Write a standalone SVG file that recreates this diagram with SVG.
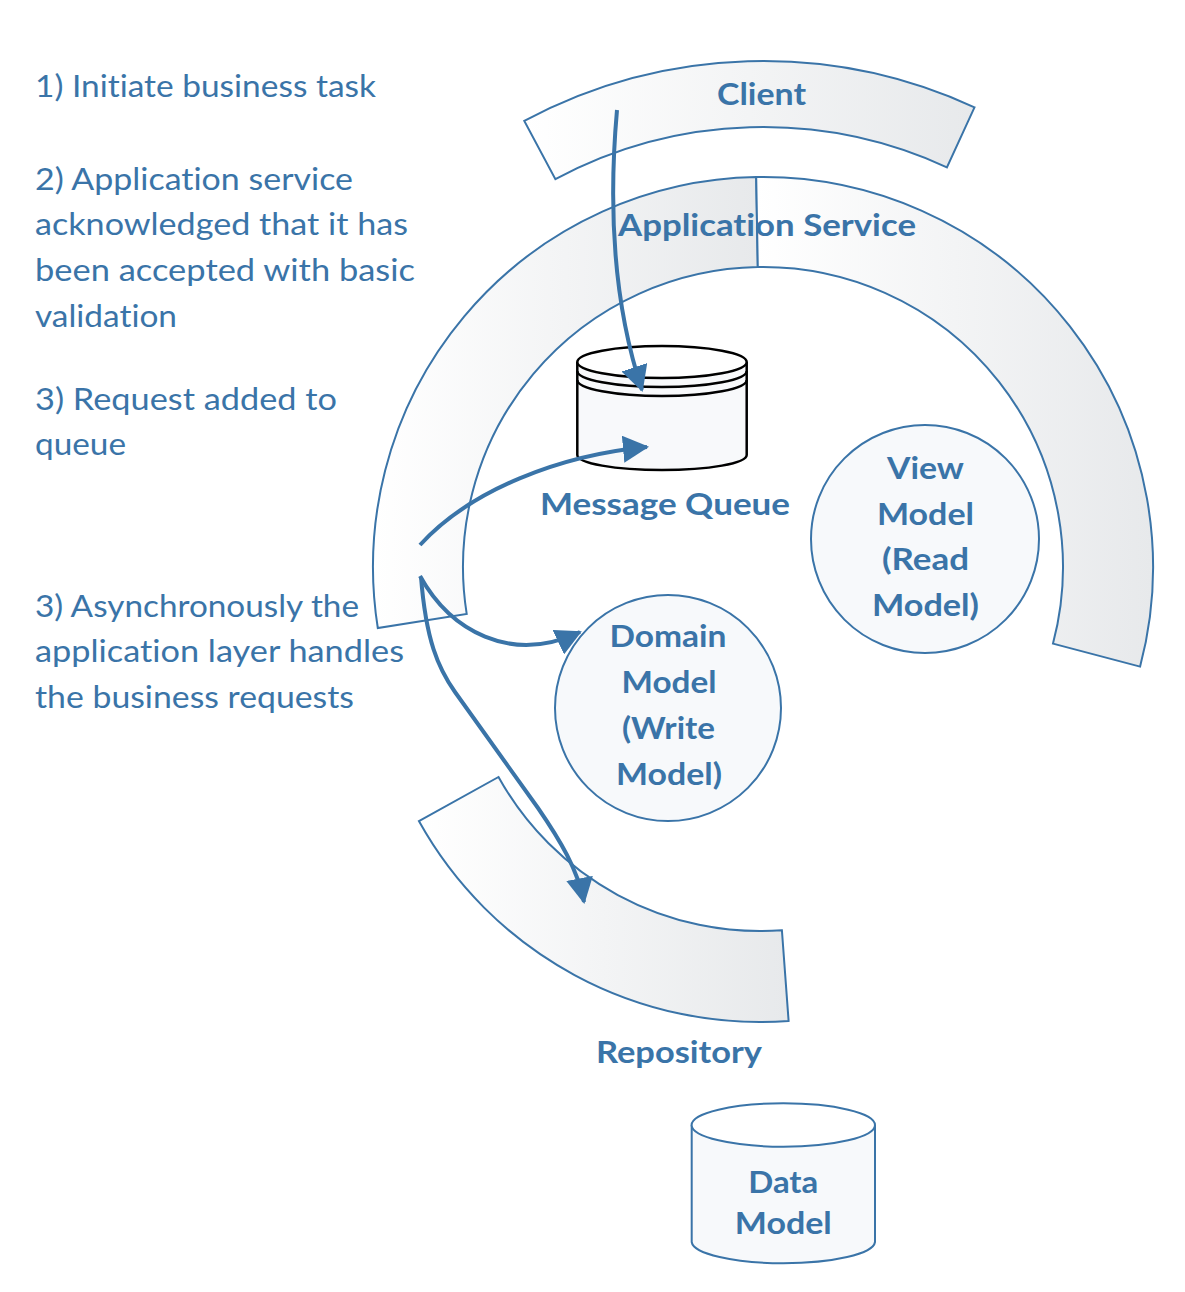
<svg xmlns="http://www.w3.org/2000/svg" width="1185" height="1292" viewBox="0 0 1185 1292">
<style>
.band{stroke:#3a74a8;stroke-width:2;stroke-linejoin:miter}
.node{fill:#f7f9fb;stroke:#3a74a8;stroke-width:2}
.lbl{font-family:Lato,"Liberation Sans",sans-serif;font-weight:700;font-size:31px;fill:#3a74a8;text-anchor:middle;font-variant-ligatures:none}
.note{font-family:Lato,"Liberation Sans",sans-serif;font-weight:400;font-size:31px;fill:#3a74a8;font-variant-ligatures:none}
.mq{fill:#f8f9fb;stroke:#000;stroke-width:2.5}
.conn{fill:none;stroke:#3a74a8;stroke-width:4}
</style>
<defs>
<linearGradient id="g" x1="0" y1="0" x2="1" y2="0">
<stop offset="0" stop-color="#ffffff"/>
<stop offset="1" stop-color="#e7e9eb"/>
</linearGradient>
<marker id="ah" markerUnits="userSpaceOnUse" viewBox="0 0 26 27" markerWidth="26" markerHeight="27" refX="24" refY="13.5" orient="auto">
<path d="M0,0 L26,13.5 L0,27 Z" fill="#3a74a8"/>
</marker>
</defs>
<rect width="1185" height="1292" fill="#ffffff"/>

<g id="client">
<path class="band" fill="url(#g)" d="M524.3,120.9 A506,506 0 0 1 974.5,107.3 L946.9,167.3 A440,440 0 0 0 555.4,179.1 Z"/>
<text class="lbl" x="761.5" y="105" textLength="89" lengthAdjust="spacingAndGlyphs">Client</text>
</g>

<g id="application-service">
<path class="band" fill="url(#g)" d="M377.8,628 A390,390 0 0 1 756.2,177.1 L757.8,267 A300,300 0 0 0 466.7,613.9 Z"/>
<path class="band" fill="url(#g)" d="M756.2,177.1 A390,390 0 0 1 1140.1,666.6 L1053,643.6 A300,300 0 0 0 757.8,267 Z"/>
<text class="lbl" x="767" y="236" textLength="298" lengthAdjust="spacingAndGlyphs">Application Service</text>
</g>

<g id="repository">
<path class="band" fill="url(#g)" d="M418.9,821.1 A390,390 0 0 0 788.6,1020.9 L781.9,930.2 A299,299 0 0 1 498.5,777 Z"/>
<text class="lbl" x="679" y="1063" textLength="166" lengthAdjust="spacingAndGlyphs">Repository</text>
</g>

<g id="message-queue">
<path class="mq" d="M577.3,362 L577.3,455 A84.7,15 0 0 0 746.7,455 L746.7,362"/>
<ellipse cx="662" cy="362" rx="84.7" ry="16" fill="#ffffff" stroke="#000" stroke-width="2.5"/>
<path d="M577.3,371 A84.7,16 0 0 0 746.7,371" fill="none" stroke="#000" stroke-width="2.5"/>
<path d="M577.3,380 A84.7,16 0 0 0 746.7,380" fill="none" stroke="#000" stroke-width="2.5"/>
<text class="lbl" x="665" y="515" textLength="250" lengthAdjust="spacingAndGlyphs">Message Queue</text>
</g>

<g id="view-model">
<circle class="node" cx="925" cy="539" r="114"/>
<text class="lbl" x="925.5" y="479" textLength="77" lengthAdjust="spacingAndGlyphs">View</text>
<text class="lbl" x="925.5" y="525" textLength="97" lengthAdjust="spacingAndGlyphs">Model</text>
<text class="lbl" x="925.5" y="570" textLength="87" lengthAdjust="spacingAndGlyphs">(Read</text>
<text class="lbl" x="925.5" y="616" textLength="107" lengthAdjust="spacingAndGlyphs">Model)</text>
</g>

<g id="domain-model">
<circle class="node" cx="668" cy="708" r="113"/>
<text class="lbl" x="668" y="647" textLength="117" lengthAdjust="spacingAndGlyphs">Domain</text>
<text class="lbl" x="669" y="693" textLength="95" lengthAdjust="spacingAndGlyphs">Model</text>
<text class="lbl" x="668.5" y="739" textLength="93" lengthAdjust="spacingAndGlyphs">(Write</text>
<text class="lbl" x="669" y="785" textLength="106" lengthAdjust="spacingAndGlyphs">Model)</text>
</g>

<g id="data-model">
<path class="node" d="M691.7,1125 L691.7,1242 A91.7,22 0 0 0 875,1242 L875,1125"/>
<ellipse cx="783.3" cy="1125" rx="91.7" ry="21.7" fill="#ffffff" stroke="#3a74a8" stroke-width="2"/>
<text class="lbl" x="783.3" y="1193" textLength="70" lengthAdjust="spacingAndGlyphs">Data</text>
<text class="lbl" x="783.3" y="1234" textLength="97" lengthAdjust="spacingAndGlyphs">Model</text>
</g>

<g id="connectors">
<path class="conn" marker-end="url(#ah)" d="M617,110 C609,200 612,300 642,390"/>
<path class="conn" marker-end="url(#ah)" d="M420,545 C470,490 560,455 647,447"/>
<path class="conn" marker-end="url(#ah)" d="M420,576 C450,630 510,665 580,632"/>
<path class="conn" marker-end="url(#ah)" d="M421,577 C426,640 438,668 455,692 L538,808 C560,840 578,870 584,902"/>
</g>

<g id="notes">
<text class="note" x="35" y="97" textLength="341" lengthAdjust="spacingAndGlyphs">1) Initiate business task</text>
<text class="note" x="35" y="190" textLength="318" lengthAdjust="spacingAndGlyphs">2) Application service</text>
<text class="note" x="35" y="235" textLength="373" lengthAdjust="spacingAndGlyphs">acknowledged that it has</text>
<text class="note" x="35" y="281" textLength="380" lengthAdjust="spacingAndGlyphs">been accepted with basic</text>
<text class="note" x="35" y="327" textLength="142" lengthAdjust="spacingAndGlyphs">validation</text>
<text class="note" x="35" y="410" textLength="302" lengthAdjust="spacingAndGlyphs">3) Request added to</text>
<text class="note" x="35" y="455" textLength="91" lengthAdjust="spacingAndGlyphs">queue</text>
<text class="note" x="35" y="617" textLength="324" lengthAdjust="spacingAndGlyphs">3) Asynchronously the</text>
<text class="note" x="35" y="662" textLength="369" lengthAdjust="spacingAndGlyphs">application layer handles</text>
<text class="note" x="35" y="708" textLength="319" lengthAdjust="spacingAndGlyphs">the business requests</text>
</g>
</svg>
